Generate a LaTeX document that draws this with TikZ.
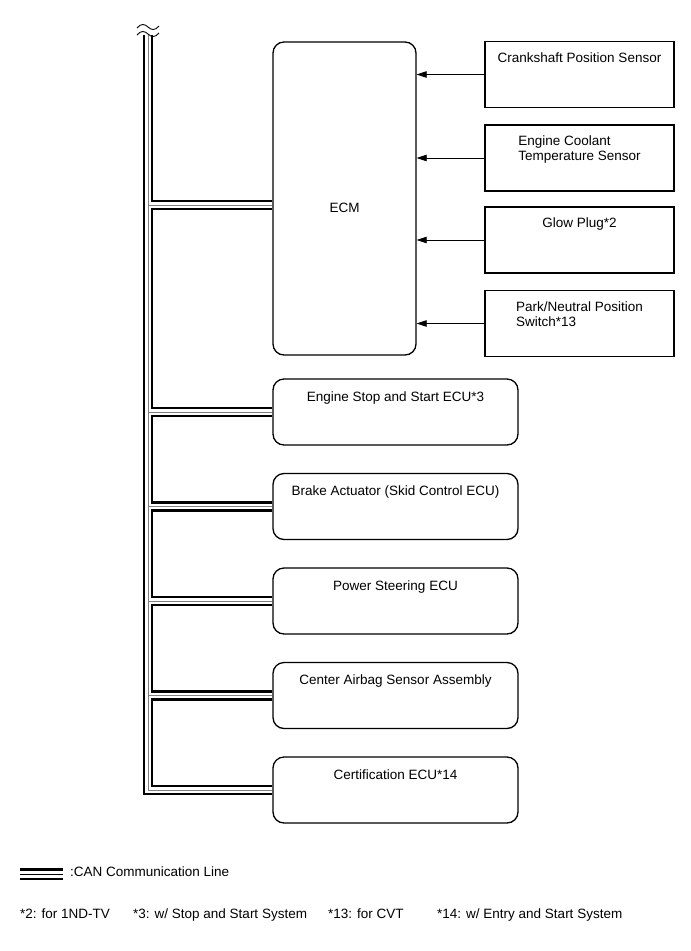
\documentclass[tikz,border=0pt]{standalone}
\usepackage{fontspec}
\setmainfont{Liberation Sans}
\usetikzlibrary{arrows.meta, positioning, calc}

\begin{document}
\begin{tikzpicture}[
    x=1pt, y=-1pt,
    every node/.style={font=\fontsize{13.5}{15}\selectfont},
    ecu/.style={draw, line width=1.3pt, rounded corners=11pt, minimum width=245pt, minimum height=66pt, inner sep=0pt},
    sensor/.style={draw, line width=1.3pt, minimum width=189pt, minimum height=66pt, inner sep=0pt},
    txt/.style={inner sep=0pt, align=left, anchor=north},
    sig/.style={-{Triangle[length=10pt,width=6.5pt]}, line width=0.8pt},
    canout/.style={line width=10.5pt},
    canin/.style={white, line width=5.5pt},
    canmid/.style={gray, line width=0.7pt},
    brk/.style={line width=0.9pt}
]
\useasboundingbox (0,0) rectangle (691,951);

\node[ecu, minimum width=143pt, minimum height=313pt] (ecm) at (344.5,198.5) {};
\node (ecm-t) at ([yshift=-9pt]ecm.center) {ECM};

\node[sensor] (crank) at (579.5,74.5) {};
\node[sensor] (ect)   at (579.5,158)  {};
\node[sensor] (glow)  at (579.5,240)  {};
\node[sensor] (pnp)   at (579.5,323.5) {};

\node[txt] (crank-t) at ([yshift=-11.5pt]crank.north) {Crankshaft Position Sensor};
\node[txt] (ect-t)   at ([yshift=-11.5pt]ect.north)   {Engine Coolant\\Temperature Sensor};
\node[txt] (glow-t)  at ([yshift=-11.5pt]glow.north)  {Glow Plug*2};
\node[txt] (pnp-t)   at ([yshift=-11.5pt]pnp.north)   {Park/Neutral Position\\Switch*13};

\node[ecu] (ess)    at (395.5,412)   {};
\node[ecu] (brake)  at (395.5,506.5) {};
\node[ecu] (eps)    at (395.5,601)   {};
\node[ecu] (airbag) at (395.5,695.5) {};
\node[ecu] (cert)   at (395.5,790)   {};

\node[txt] (ess-t)    at ([yshift=-13pt]ess.north)    {Engine Stop and Start ECU*3};
\node[txt] (brake-t)  at ([yshift=-13pt]brake.north)  {Brake Actuator (Skid Control ECU)};
\node[txt] (eps-t)    at ([yshift=-13pt]eps.north)    {Power Steering ECU};
\node[txt] (airbag-t) at ([yshift=-13pt]airbag.north) {Center Airbag Sensor Assembly};
\node[txt] (cert-t)   at ([yshift=-13pt]cert.north)   {Certification ECU*14};

\foreach \s in {crank, ect, glow, pnp}
    \draw[sig] (\s.west) -- (\s.west -| ecm.east);

% CAN bus: black, then white, then the thin middle line
\coordinate (bustop) at (148,35);
\coordinate (ecm-in) at ([yshift=-6.5pt]ecm.west);
\foreach \st in {canout, canin, canmid}
    \foreach \b in {ecm-in, ess.west, brake.west, eps.west, airbag.west, cert.west}
        \draw[\st] (bustop) |- (\b);

% break mark at the top of the bus
\draw[brk] (137,28) .. controls (141,23) and (145,24) .. (148,27) .. controls (151,30) and (155,31) .. (159,26);
\draw[brk] (137,35) .. controls (141,30) and (145,31) .. (148,34) .. controls (151,37) and (155,38) .. (159,33);

% legend
\coordinate (leg-a) at (20,874);
\coordinate (leg-b) at (63,874);
\draw[canout, line width=12pt] (leg-a) -- (leg-b);
\draw[canin, line width=7pt] (leg-a) -- (leg-b);
\draw[canmid, black, line width=0.9pt] (leg-a) -- (leg-b);
\node[anchor=base west, inner sep=0pt] (leg-t) at (70,876) {:CAN Communication Line};

\node[anchor=base west, inner sep=0pt] (fn2)  at (20,918)  {*2: for 1ND-TV};
\node[anchor=base west, inner sep=0pt] (fn3)  at (133,918) {*3: w/ Stop and Start System};
\node[anchor=base west, inner sep=0pt] (fn13) at (328,918) {*13: for CVT};
\node[anchor=base west, inner sep=0pt] (fn14) at (437,918) {*14: w/ Entry and Start System};

\end{tikzpicture}
\end{document}
